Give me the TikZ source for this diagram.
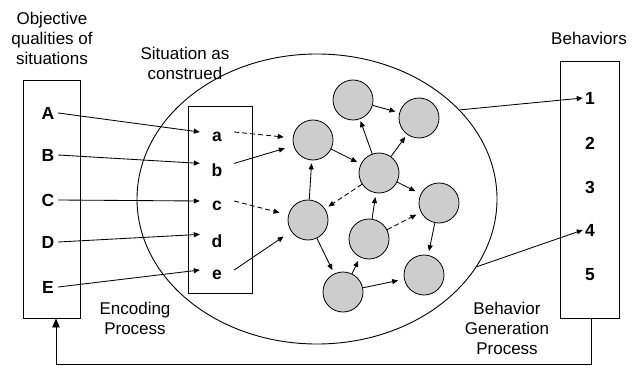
\documentclass[tikz,border=0pt]{standalone}
\usepackage{fontspec}
\setmainfont{Liberation Sans}
\usepackage{xcolor}
\usetikzlibrary{shapes.geometric, arrows.meta}
\definecolor{Unit-Grey}{RGB}{205, 205, 205}

\begin{document}
\begin{tikzpicture}[x=1pt, y=-1pt, font=\fontsize{17}{20}\selectfont,
    frame/.style={draw, line width=0.9pt, inner sep=0pt},
    letter/.style={font=\fontsize{17.5}{20}\selectfont\bfseries, inner sep=0pt},
    unit/.style={circle, draw, fill=Unit-Grey, minimum size=40pt, inner sep=0pt, line width=0.8pt},
    link/.style={-{Triangle[length=6pt, width=5pt]}, line width=0.85pt},
    maybe/.style={link, dash pattern=on 5pt off 3pt},
    caption/.style={align=center, inner sep=0pt}]

    \useasboundingbox (0,0) rectangle (636,366);

    % titles
    \node[caption] (objtitle) at (52,38) {Objective\\qualities of\\situations};
    \node[caption] (contitle) at (185,63) {Situation as\\construed};
    \node[caption] (behtitle) at (589,38) {Behaviors};
    \node[caption] (encoding) at (135,318) {Encoding\\Process};
    \node[caption] (generation) at (507,328) {Behavior\\Generation\\Process};

    % boxes
    \node[frame, minimum width=57pt, minimum height=238pt] (objective) at (51.5,199) {};
    \node[draw, ellipse, line width=0.9pt, minimum width=360pt, minimum height=290pt, inner sep=0pt] (construed) at (317,199) {};
    \node[frame, minimum width=64pt, minimum height=187pt] (encoded) at (220,199.5) {};
    \node[frame, minimum width=59pt, minimum height=257pt] (behaviors) at (589.5,189.5) {};

    % objective qualities
    \node[letter, minimum width=20pt] (A) at (48,113) {A};
    \node[letter, minimum width=20pt] (B) at (48,155) {B};
    \node[letter, minimum width=20pt] (C) at (48,200) {C};
    \node[letter, minimum width=20pt] (D) at (48,242) {D};
    \node[letter, minimum width=20pt] (E) at (48,287) {E};

    % construed features
    \node[letter, minimum width=34pt] (a) at (217,137) {a};
    \node[letter, minimum width=34pt] (b) at (217,170) {b};
    \node[letter, minimum width=34pt] (c) at (217,206) {c};
    \node[letter, minimum width=34pt] (d) at (217,241) {d};
    \node[letter, minimum width=34pt] (e) at (217,275) {e};

    % behaviors
    \node[letter, minimum width=14pt] (one) at (590,98) {1};
    \node[letter, minimum width=14pt] (two) at (590,143) {2};
    \node[letter, minimum width=14pt] (three) at (590,187) {3};
    \node[letter, minimum width=14pt] (four) at (590,230) {4};
    \node[letter, minimum width=14pt] (five) at (590,275) {5};

    % cognitive-affective units
    \node[unit] (u1) at (353,100) {};
    \node[unit] (u2) at (419,118) {};
    \node[unit] (u3) at (313,140) {};
    \node[unit] (u4) at (379,173) {};
    \node[unit] (u5) at (308,220) {};
    \node[unit] (u6) at (369,239) {};
    \node[unit] (u7) at (439,203) {};
    \node[unit] (u8) at (424,275) {};
    \node[unit] (u9) at (343,292) {};

    % encoding
    \draw[link] (A.east) -- (a.north west);
    \draw[link] (B.east) -- (b.north west);
    \draw[link] (C.east) -- (c.north west);
    \draw[link] (D.east) -- (d.north west);
    \draw[link] (E.east) -- (e.north west);

    \draw[maybe, shorten >=9pt] (a.north east) -- (u3);
    \draw[link, shorten >=9pt] (b.north east) -- (u3);
    \draw[maybe, shorten >=9pt] (c.north east) -- (u5);
    \draw[link, shorten >=9pt] (e.north east) -- (u5);

    % network
    \draw[link, shorten >=4pt] (u1) -- (u2);
    \draw[link, shorten >=2pt] (u4) -- (u1);
    \draw[link, shorten >=3pt] (u4) -- (u2);
    \draw[link, shorten >=4pt] (u3) -- (u4);
    \draw[link, shorten >=6pt] (u4) -- (u7);
    \draw[maybe, shorten >=4pt] (u4) -- (u5);
    \draw[link, shorten >=3pt] (u5) -- (u3);
    \draw[link, shorten >=4pt] (u6) -- (u4);
    \draw[maybe, shorten >=5pt] (u6) -- (u7);
    \draw[link, shorten >=4pt] (u7) -- (u8);
    \draw[link, shorten >=4pt] (u5) -- (u9);
    \draw[link, shorten >=4pt] (u9) -- (u6);
    \draw[link, shorten >=6pt] (u9) -- (u8);

    % behavior generation
    \draw[link] (construed.32) -- (one.west);
    \draw[link] (construed.-23) -- (four.west);

    % feedback
    \draw[-{Triangle[length=9pt, width=7.5pt]}, line width=0.9pt] ([xshift=1.5pt]behaviors.south) -- ++(0,46) -| ([xshift=4.5pt]objective.south);

\end{tikzpicture}
\end{document}
